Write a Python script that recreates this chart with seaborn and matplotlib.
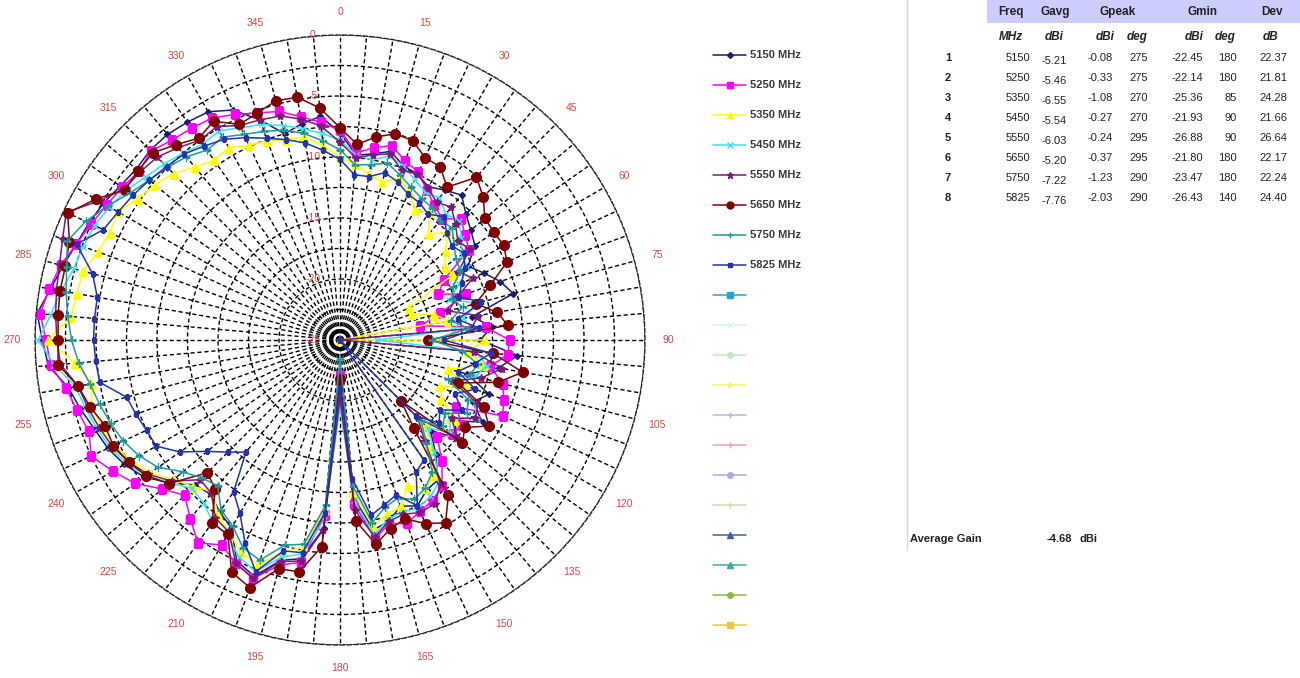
import numpy as np
import pandas as pd
import matplotlib
matplotlib.use("Agg")
import matplotlib.pyplot as plt
from matplotlib.lines import Line2D
from matplotlib.patches import Rectangle
import seaborn as sns

# ---------------------------------------------------------------- data
angles_deg = list(range(0, 360, 5))
freqs_mhz = [5150, 5250, 5350, 5450, 5550, 5650, 5750, 5825]

gain_5150 = [-8.0, -9.8, -9.5, -9.0, -9.8, -10.0, -10.5, -10.0, -9.5, -10.4, -11.0, -11.5,
             -12.9, -12.0, -11.0, -10.3, -14.0, -12.5, -13.5, -10.4, -11.8, -14.2, -12.0, -13.0,
             -11.5, -13.5, -12.5, -14.5, -12.8, -11.0, -10.8, -10.0, -10.5, -9.6, -9.2, -12.0,
             -22.45, -9.5, -6.8, -6.3, -4.4, -5.0, -7.2, -7.8, -8.5, -8.2, -6.8, -5.4,
             -4.6, -4.0, -3.6, -3.0, -2.4, -1.0, -0.6, -0.08, -0.9, -1.5, -2.0, -2.3,
             -2.6, -3.0, -3.2, -3.0, -3.0, -3.2, -3.4, -4.2, -5.8, -7.5, -7.0, -6.6]
gain_5250 = [-7.8, -9.6, -9.0, -8.5, -9.4, -9.8, -10.8, -11.5, -12.0, -11.0, -11.6, -12.1,
             -15.2, -16.1, -14.0, -16.5, -18.3, -13.0, -11.1, -11.2, -12.5, -11.2, -10.7, -10.3,
             -14.0, -12.8, -13.0, -13.7, -12.0, -10.4, -9.8, -9.5, -9.0, -9.4, -8.5, -11.5,
             -22.14, -10.6, -6.5, -5.9, -4.2, -4.8, -5.6, -4.7, -5.9, -7.0, -6.0, -4.5,
             -3.5, -2.5, -3.1, -2.7, -2.2, -1.2, -0.9, -0.33, -0.8, -1.3, -2.0, -2.5,
             -2.9, -3.2, -3.5, -3.1, -3.6, -3.8, -4.0, -4.6, -5.2, -5.6, -6.4, -7.1]
gain_5350 = [-10.0, -10.5, -11.2, -11.6, -10.9, -11.6, -12.7, -12.2, -13.7, -12.5, -13.7, -14.5,
             -14.3, -18.8, -18.7, -17.0, -16.0, -25.36, -13.1, -14.5, -13.0, -15.8, -14.0, -16.0,
             -15.4, -13.5, -14.2, -15.0, -13.5, -11.5, -11.0, -11.8, -10.5, -10.2, -9.5, -12.5,
             -20.5, -11.0, -7.8, -7.0, -5.4, -5.8, -6.8, -7.5, -8.8, -8.0, -7.2, -6.0,
             -5.2, -4.6, -4.2, -3.9, -4.4, -3.2, -1.08, -2.9, -3.1, -3.2, -3.9, -4.2,
             -4.0, -4.8, -5.2, -5.7, -6.5, -7.0, -6.8, -7.4, -7.6, -8.0, -8.1, -9.0]
gain_5450 = [-8.6, -9.8, -10.0, -9.4, -9.8, -10.5, -11.0, -10.8, -11.5, -11.2, -12.0, -12.8,
             -13.0, -14.2, -15.5, -13.2, -14.8, -15.6, -21.93, -13.8, -12.8, -13.5, -14.5, -12.8,
             -12.0, -14.0, -13.2, -14.8, -13.0, -10.8, -10.2, -9.8, -10.0, -9.8, -8.8, -11.8,
             -19.5, -10.2, -7.2, -6.6, -4.8, -5.4, -6.5, -6.8, -7.6, -7.8, -6.8, -5.6,
             -4.8, -4.2, -3.8, -3.4, -3.0, -1.5, -0.27, -1.2, -1.8, -2.4, -2.6, -2.8,
             -3.2, -3.6, -4.2, -4.6, -5.0, -5.4, -5.2, -5.8, -6.2, -6.8, -7.4, -8.0]
gain_5550 = [-8.8, -10.0, -9.6, -9.2, -10.2, -10.0, -10.6, -11.2, -10.8, -11.6, -12.4, -12.0,
             -13.8, -13.0, -14.8, -15.8, -13.5, -14.2, -26.88, -14.0, -11.5, -13.0, -15.2, -12.5,
             -12.2, -13.8, -12.5, -16.0, -14.2, -10.6, -9.5, -9.4, -9.8, -9.6, -8.6, -11.0,
             -20.2, -9.4, -6.6, -6.2, -4.2, -4.8, -6.8, -7.2, -8.6, -8.8, -7.0, -5.8,
             -5.0, -4.4, -4.0, -3.6, -3.2, -2.0, -1.8, -1.6, -1.4, -1.2, -0.8, -0.24,
             -2.2, -3.4, -3.6, -3.8, -4.4, -5.0, -4.8, -5.6, -5.8, -6.0, -6.6, -7.4]
gain_5650 = [-7.6, -8.9, -8.1, -7.5, -7.6, -8.5, -8.6, -9.7, -7.6, -8.4, -9.5, -9.6,
             -9.5, -9.9, -11.9, -13.5, -11.9, -11.2, -17.8, -12.4, -9.8, -11.6, -14.7, -12.0,
             -10.9, -12.5, -11.9, -17.9, -15.6, -9.5, -7.7, -8.4, -9.4, -9.0, -8.0, -10.1,
             -21.80, -8.0, -5.7, -5.6, -3.4, -4.0, -6.6, -6.7, -9.1, -9.6, -6.7, -5.6,
             -5.0, -4.5, -4.5, -3.8, -3.2, -1.8, -1.9, -1.8, -1.7, -1.7, -1.4, -0.37,
             -1.9, -3.5, -3.4, -3.3, -4.1, -4.8, -4.3, -5.5, -5.2, -4.7, -4.8, -5.9]
gain_5750 = [-9.4, -10.6, -10.4, -10.0, -10.6, -11.2, -11.6, -11.8, -12.2, -12.0, -12.8, -13.4,
             -13.6, -14.8, -15.2, -14.6, -15.8, -14.4, -17.5, -15.0, -13.5, -14.0, -15.6, -13.4,
             -13.0, -14.5, -14.0, -15.6, -14.0, -11.8, -11.0, -10.6, -11.2, -10.8, -9.8, -13.0,
             -23.47, -11.4, -8.0, -7.6, -5.8, -6.2, -7.4, -8.0, -9.4, -9.0, -8.2, -6.8,
             -6.0, -5.4, -5.0, -4.6, -4.2, -3.5, -3.0, -2.6, -2.2, -1.8, -1.23, -2.0,
             -3.0, -4.0, -4.6, -5.0, -5.4, -6.0, -5.8, -6.4, -6.8, -7.2, -7.8, -8.6]
gain_5825 = [-10.2, -11.4, -11.4, -10.8, -11.2, -11.8, -12.0, -12.4, -11.8, -12.6, -13.0, -12.6,
             -13.2, -14.0, -14.6, -13.0, -15.2, -13.6, -16.5, -12.6, -13.8, -15.0, -13.2, -14.6,
             -13.5, -15.0, -14.4, -16.2, -26.43, -13.0, -12.5, -10.0, -11.5, -11.0, -10.4, -13.6,
             -21.0, -10.8, -7.3, -7.1, -4.8, -6.6, -8.6, -9.8, -13.0, -12.0, -10.8, -9.0,
             -7.6, -7.5, -7.2, -6.9, -5.0, -4.9, -4.8, -4.8, -4.8, -4.0, -2.03, -3.6,
             -4.0, -4.3, -4.6, -4.9, -5.1, -5.6, -6.0, -6.7, -7.4, -8.0, -8.6, -9.4]

gains = [gain_5150, gain_5250, gain_5350, gain_5450,
         gain_5550, gain_5650, gain_5750, gain_5825]

# summary table
gavg = [-5.21, -5.46, -6.55, -5.54, -6.03, -5.20, -7.22, -7.76]
gpeak = [-0.08, -0.33, -1.08, -0.27, -0.24, -0.37, -1.23, -2.03]
gpeak_deg = [275, 275, 270, 270, 295, 295, 290, 290]
gmin = [-22.45, -22.14, -25.36, -21.93, -26.88, -21.80, -23.47, -26.43]
gmin_deg = [180, 180, 85, 90, 90, 180, 180, 140]
dev = [22.37, 21.81, 24.28, 21.66, 26.64, 22.17, 22.24, 24.40]
average_gain = -4.68

# ---------------------------------------------------------------- styles
series_style = {
    5150: dict(color="#1a1a78", marker="D", ms=3.0),
    5250: dict(color="#ff00ff", marker="s", ms=6.0),
    5350: dict(color="#ffff00", marker="^", ms=6.0),
    5450: dict(color="#33e6f0", marker="x", ms=4.5),
    5550: dict(color="#7a1a7a", marker="*", ms=6.0),
    5650: dict(color="#800000", marker="o", ms=7.0),
    5750: dict(color="#1f9a9a", marker="+", ms=6.0),
    5825: dict(color="#2233b0", marker="s", ms=3.0),
}
spare_entries = [
    ("#2d9fd0", "s"), ("#d0f4f8", "x"), ("#c0e8c0", "o"), ("#f4f470", "*"),
    ("#a8c0e0", "+"), ("#f0a0c0", "+"), ("#b8a0e8", "o"), ("#e0d0b0", "|"),
    ("#4060a0", "^"), ("#40a8a8", "^"), ("#90b840", "o"), ("#e8c840", "s"),
]

RMIN, RMAX = -25.0, 0.0
label_red = "#e0463c"

sns.set_style("white")
plt.rcParams["font.family"] = ["Liberation Sans", "DejaVu Sans"]

fig = plt.figure(figsize=(13.0, 6.78), dpi=100)
W, H = 1300.0, 678.0


def fx(px):
    return px / W


def fy(py):
    return 1.0 - py / H


# ---------------------------------------------------------------- polar chart
ax = fig.add_axes([fx(35), fy(645), 610 / W, 610 / H], projection="polar")
ax.set_theta_zero_location("N")
ax.set_theta_direction(-1)

records = []
for f, g in zip(freqs_mhz, gains):
    closed = list(g) + [g[0]]
    ang = angles_deg + [360]
    for a, v in zip(ang, closed):
        records.append({"freq": f, "theta": np.deg2rad(a), "gain": v,
                        "r": max(v, RMIN)})
df = pd.DataFrame(records)

for f in freqs_mhz:
    st = series_style[f]
    sub = df[df["freq"] == f]
    sns.lineplot(data=sub, x="theta", y="r", sort=False, estimator=None,
                 color=st["color"], marker=st["marker"], markersize=st["ms"],
                 markeredgecolor=st["color"], markerfacecolor=st["color"],
                 markeredgewidth=1.0, linewidth=1.1, ax=ax, legend=False)

ax.set_xlabel("")
ax.set_ylabel("")
ax.set_ylim(RMIN, RMAX)

tick_angles = list(range(0, 360, 5))
tick_labels = [str(a) if a % 15 == 0 else "" for a in tick_angles]
ax.set_thetagrids(tick_angles, tick_labels)
ax.tick_params(axis="x", pad=6, labelsize=7.5, labelcolor=label_red)
ax.set_rgrids(np.arange(RMIN, RMAX + 0.01, 2.5), labels=[""] * 11)
ax.grid(True, color="black", linestyle=(0, (3, 2)), linewidth=1.0)
ax.spines["polar"].set_linestyle((0, (3, 2)))
ax.spines["polar"].set_linewidth(1.0)
ax.set_facecolor("white")

for rv in [0, -5, -10, -15, -20, -25]:
    ax.annotate(str(rv), xy=(0, rv), xytext=(-27, 0), textcoords="offset pixels",
                ha="center", va="center", fontsize=7.5, color=label_red,
                annotation_clip=False)

# ---------------------------------------------------------------- legend
handles, labels = [], []
for f in freqs_mhz:
    st = series_style[f]
    handles.append(Line2D([], [], color=st["color"], marker=st["marker"],
                          markersize=min(st["ms"], 5), markeredgecolor=st["color"],
                          linewidth=1.1))
    labels.append(f"{f} MHz")
for c, m in spare_entries:
    handles.append(Line2D([], [], color=c, marker=m, markersize=4,
                          markeredgecolor=c, linewidth=1.1))
    labels.append("")
leg = fig.legend(handles, labels, loc="upper left", bbox_to_anchor=(fx(709), fy(46)),
                 frameon=False, prop={"size": 8, "weight": "bold"},
                 labelspacing=1.8, handlelength=2.9, handletextpad=0.35,
                 borderaxespad=0, labelcolor="#3a3a3a")

# ---------------------------------------------------------------- table
fig.add_artist(Rectangle((fx(987), fy(23)), (W - 987) / W, 23 / H,
                         transform=fig.transFigure, color="#ccccff", lw=0))
fig.add_artist(Line2D([fx(907), fx(907)], [fy(0), fy(550)],
                      transform=fig.transFigure, color="#d8d8d8", lw=1))

tsz = 8
hdr = [("Freq", 1011), ("Gavg", 1055), ("Gpeak", 1118), ("Gmin", 1203), ("Dev", 1272)]
for txt, x in hdr:
    fig.text(fx(x), fy(12), txt, ha="center", va="center", fontsize=tsz + 0.5,
             fontweight="bold", color="#222222")
units = [("MHz", 1011), ("dBi", 1054), ("dBi", 1105), ("deg", 1137),
         ("dBi", 1194), ("deg", 1225), ("dB", 1270)]
for txt, x in units:
    fig.text(fx(x), fy(37), txt, ha="center", va="center", fontsize=tsz + 0.5,
             fontweight="bold", fontstyle="italic", color="#222222")

for i in range(len(freqs_mhz)):
    y = 58 + 20 * i
    fig.text(fx(948), fy(y), str(i + 1), ha="center", va="center", fontsize=tsz,
             fontweight="bold", color="#222222")
    cells = [(f"{freqs_mhz[i]}", 1030, 0), (f"{gavg[i]:.2f}", 1067, 3),
             (f"{gpeak[i]:.2f}", 1113, 0), (f"{gpeak_deg[i]}", 1148, 0),
             (f"{gmin[i]:.2f}", 1203, 0), (f"{gmin_deg[i]}", 1237, 0),
             (f"{dev[i]:.2f}", 1287, 0)]
    for txt, x, dy in cells:
        fig.text(fx(x), fy(y + dy), txt, ha="right", va="center", fontsize=tsz,
                 color="#222222")

fig.text(fx(910), fy(539), "Average Gain", ha="left", va="center", fontsize=tsz,
         fontweight="bold", color="#222222")
fig.text(fx(1072), fy(539), f"{average_gain:.2f}", ha="right", va="center",
         fontsize=tsz, fontweight="bold", color="#222222")
fig.text(fx(1080), fy(539), "dBi", ha="left", va="center", fontsize=tsz,
         fontweight="bold", color="#222222")

fig.savefig("out.png", dpi=100, facecolor="white")
